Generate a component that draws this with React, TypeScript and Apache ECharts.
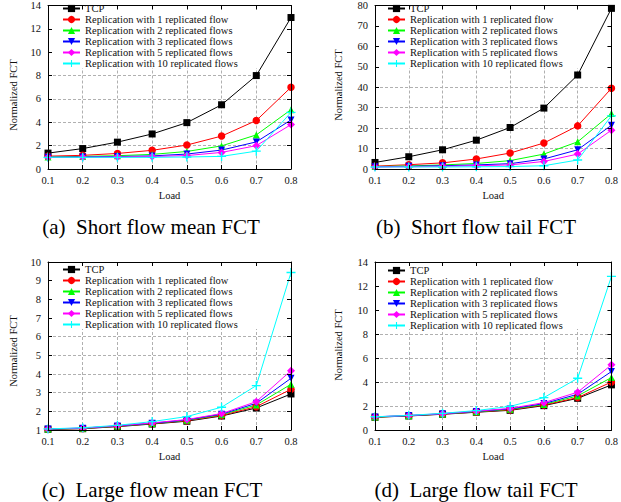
import React, { useEffect, useRef } from 'react';
import * as echarts from 'echarts';

const loads = ['0.1', '0.2', '0.3', '0.4', '0.5', '0.6', '0.7', '0.8'];

const seriesNames = [
  'TCP',
  'Replication with 1 replicated flow',
  'Replication with 2 replicated flows',
  'Replication with 3 replicated flows',
  'Replication with 5 replicated flows',
  'Replication with 10 replicated flows',
];

// (a) Short flow mean FCT
const tcpShortMean = [1.36, 1.75, 2.3, 3.0, 3.97, 5.5, 8.0, 12.97];
const rep1ShortMean = [1.1, 1.17, 1.33, 1.6, 2.05, 2.82, 4.15, 7.0];
const rep2ShortMean = [1.03, 1.08, 1.14, 1.25, 1.5, 1.98, 2.92, 5.08];
const rep3ShortMean = [1.0, 1.03, 1.07, 1.12, 1.28, 1.62, 2.32, 4.2];
const rep5ShortMean = [1.0, 1.0, 1.03, 1.07, 1.15, 1.42, 2.0, 3.8];
const rep10ShortMean = [1.0, 1.0, 1.0, 1.0, 1.03, 1.08, 1.53, 4.85];

// (b) Short flow tail FCT
const tcpShortTail = [3.2, 6.0, 9.4, 14.1, 20.3, 29.8, 46.0, 78.6];
const rep1ShortTail = [1.4, 2.1, 3.0, 4.9, 7.8, 12.7, 21.1, 39.5];
const rep2ShortTail = [1.2, 1.5, 2.0, 2.7, 4.1, 7.3, 13.3, 27.1];
const rep3ShortTail = [1.1, 1.3, 1.6, 2.0, 2.6, 4.9, 9.4, 21.4];
const rep5ShortTail = [1.0, 1.1, 1.3, 1.6, 2.0, 3.7, 7.3, 19.0];
const rep10ShortTail = [1.0, 1.0, 1.0, 1.1, 1.2, 1.6, 4.4, 26.0];

// (c) Large flow mean FCT
const tcpLargeMean = [1.04, 1.07, 1.18, 1.32, 1.47, 1.75, 2.18, 2.93];
const rep1LargeMean = [1.04, 1.08, 1.2, 1.34, 1.5, 1.78, 2.25, 3.18];
const rep2LargeMean = [1.05, 1.09, 1.21, 1.35, 1.52, 1.82, 2.34, 3.45];
const rep3LargeMean = [1.05, 1.1, 1.22, 1.36, 1.54, 1.85, 2.43, 3.77];
const rep5LargeMean = [1.06, 1.1, 1.23, 1.38, 1.56, 1.88, 2.52, 4.18];
const rep10LargeMean = [1.06, 1.12, 1.25, 1.45, 1.72, 2.22, 3.38, 9.44];

// (d) Large flow tail FCT
const tcpLargeTail = [1.06, 1.17, 1.31, 1.48, 1.64, 2.03, 2.64, 3.76];
const rep1LargeTail = [1.07, 1.18, 1.33, 1.5, 1.68, 2.08, 2.7, 4.0];
const rep2LargeTail = [1.08, 1.19, 1.34, 1.52, 1.72, 2.13, 2.84, 4.37];
const rep3LargeTail = [1.09, 1.2, 1.35, 1.55, 1.76, 2.2, 2.98, 4.87];
const rep5LargeTail = [1.1, 1.21, 1.36, 1.57, 1.8, 2.28, 3.15, 5.43];
const rep10LargeTail = [1.1, 1.22, 1.39, 1.62, 1.97, 2.7, 4.31, 12.8];

const panelData = [
  [tcpShortMean, rep1ShortMean, rep2ShortMean, rep3ShortMean, rep5ShortMean, rep10ShortMean],
  [tcpShortTail, rep1ShortTail, rep2ShortTail, rep3ShortTail, rep5ShortTail, rep10ShortTail],
  [tcpLargeMean, rep1LargeMean, rep2LargeMean, rep3LargeMean, rep5LargeMean, rep10LargeMean],
  [tcpLargeTail, rep1LargeTail, rep2LargeTail, rep3LargeTail, rep5LargeTail, rep10LargeTail],
];

const captions = [
  '(a)  Short flow mean FCT',
  '(b)  Short flow tail FCT',
  '(c)  Large flow mean FCT',
  '(d)  Large flow tail FCT',
];

const yMins = [0, 0, 1, 0];
const yMaxs = [14, 80, 10, 14];
const yIntervals = [2, 10, 1, 2];

const xAxisTitle = 'Load';
const yAxisTitle = 'Normalized FCT';

const FONT = 'Liberation Serif';
const COLORS = ['#000000', '#ff0000', '#00ff00', '#0000ff', '#ff00ff', '#00ffff'];
const PLUS = 'path://M3.4,0H4.6V3.4H8V4.6H4.6V8H3.4V4.6H0V3.4H3.4Z';
const SYMBOLS = ['rect', 'circle', 'triangle', 'path://M0,0L10,0L5,8.66Z', 'diamond', PLUS];
const SYMBOL_SIZES = [7, 7.5, 7, 7, 8, 9];

const GRIDS = [
  { left: 48, top: 1, width: 243, height: 168 },
  { left: 375, top: 1, width: 241, height: 168 },
  { left: 48, top: 262, width: 243, height: 168 },
  { left: 375, top: 262, width: 241, height: 168 },
];
const LEGEND_POS = [
  { left: 62, top: 3 },
  { left: 387, top: 3 },
  { left: 62, top: 264 },
  { left: 387, top: 265 },
];
const YLABEL_POS = [
  { x: 13, y: 95 },
  { x: 338, y: 85 },
  { x: 13, y: 351 },
  { x: 338, y: 345 },
];
const CAPTION_POS = [
  { x: 151, y: 227 },
  { x: 476, y: 227 },
  { x: 152, y: 490 },
  { x: 476, y: 490 },
];

function buildOption() {
  const grid: any[] = [];
  const xAxis: any[] = [];
  const yAxis: any[] = [];
  const series: any[] = [];
  const legend: any[] = [];
  const graphic: any[] = [];

  const labelStyle = { color: '#111', fontFamily: FONT, fontSize: 10.5 };
  const splitStyle = { color: '#b0b0b0', width: 1, type: [3, 2] };
  const frameLine = { show: true, onZero: false, lineStyle: { color: '#000', width: 1 } };

  GRIDS.forEach((g, p) => {
    grid.push({ ...g, containLabel: false });

    xAxis.push({
      type: 'category', gridIndex: p, data: loads, boundaryGap: false, z: 0,
      axisLine: { show: false, onZero: false }, axisTick: { show: false }, axisLabel: { show: false },
      splitLine: { show: true, interval: 0, lineStyle: splitStyle },
    });
    xAxis.push({
      type: 'category', gridIndex: p, data: loads, boundaryGap: false, position: 'bottom', z: 3,
      axisLine: frameLine,
      axisTick: { show: true, inside: true, length: 4, interval: 0, lineStyle: { color: '#000' } },
      axisLabel: { show: true, interval: 0, margin: 6, ...labelStyle },
      splitLine: { show: false },
      name: xAxisTitle, nameLocation: 'middle', nameGap: 21,
      nameTextStyle: { ...labelStyle },
    });
    xAxis.push({
      type: 'category', gridIndex: p, data: loads, boundaryGap: false, position: 'top', z: 3,
      axisLine: frameLine,
      axisTick: { show: true, inside: true, length: 4, interval: 0, lineStyle: { color: '#000' } },
      axisLabel: { show: false }, splitLine: { show: false },
    });

    const yBase = { type: 'value', gridIndex: p, min: yMins[p], max: yMaxs[p], interval: yIntervals[p] };
    yAxis.push({
      ...yBase, z: 0,
      axisLine: { show: false, onZero: false }, axisTick: { show: false }, axisLabel: { show: false },
      splitLine: { show: true, lineStyle: splitStyle },
    });
    yAxis.push({
      ...yBase, position: 'left', z: 3,
      axisLine: frameLine,
      axisTick: { show: true, inside: true, length: 4, lineStyle: { color: '#000' } },
      axisLabel: { show: true, margin: 7, ...labelStyle },
      splitLine: { show: false },
    });
    yAxis.push({
      ...yBase, position: 'right', z: 3,
      axisLine: frameLine,
      axisTick: { show: true, inside: true, length: 4, lineStyle: { color: '#000' } },
      axisLabel: { show: false }, splitLine: { show: false },
    });

    panelData[p].forEach((vals, s) => {
      series.push({
        type: 'line',
        name: seriesNames[s],
        xAxisIndex: p * 3 + 1,
        yAxisIndex: p * 3 + 1,
        data: vals,
        symbol: SYMBOLS[s],
        symbolSize: SYMBOL_SIZES[s],
        showAllSymbol: true,
        lineStyle: { color: COLORS[s], width: 1 },
        itemStyle: { color: COLORS[s] },
        emphasis: { disabled: true },
        z: 2,
      });
    });

    legend.push({
      orient: 'vertical',
      left: LEGEND_POS[p].left,
      top: LEGEND_POS[p].top,
      padding: 0,
      itemWidth: 17,
      itemHeight: 9,
      itemGap: 0,
      selectedMode: false,
      data: seriesNames,
      textStyle: { color: '#111', fontFamily: FONT, fontSize: 10.5, lineHeight: 10.7 },
      z: 5,
    });

    graphic.push({
      type: 'rect', z: 1, silent: true,
      shape: { x: g.left + 1, y: g.top + 1, width: g.width - 2, height: 66 },
      style: { fill: '#ffffff' },
    });
    graphic.push({
      type: 'text', z: 5, silent: true,
      x: YLABEL_POS[p].x, y: YLABEL_POS[p].y, rotation: Math.PI / 2,
      style: {
        text: yAxisTitle, fill: '#111', fontFamily: FONT, fontSize: 10.5,
        align: 'center', verticalAlign: 'middle',
      },
    });
    graphic.push({
      type: 'text', z: 5, silent: true,
      x: CAPTION_POS[p].x, y: CAPTION_POS[p].y,
      style: {
        text: captions[p], fill: '#000', fontFamily: FONT, fontSize: 21,
        align: 'center', verticalAlign: 'middle',
      },
    });
  });

  return {
    animation: false,
    backgroundColor: '#ffffff',
    textStyle: { fontFamily: FONT },
    grid, xAxis, yAxis, series, legend, graphic,
  };
}

export default function App() {
  const ref = useRef<HTMLDivElement>(null);
  useEffect(() => {
    if (!ref.current) return;
    const chart = echarts.init(ref.current, undefined, { renderer: 'svg' });
    chart.setOption(buildOption() as any);
    return () => chart.dispose();
  }, []);
  return (
    <div
      ref={ref}
      style={{ position: 'absolute', left: 0, top: 0, width: 621, height: 502, background: '#fff' }}
    />
  );
}
